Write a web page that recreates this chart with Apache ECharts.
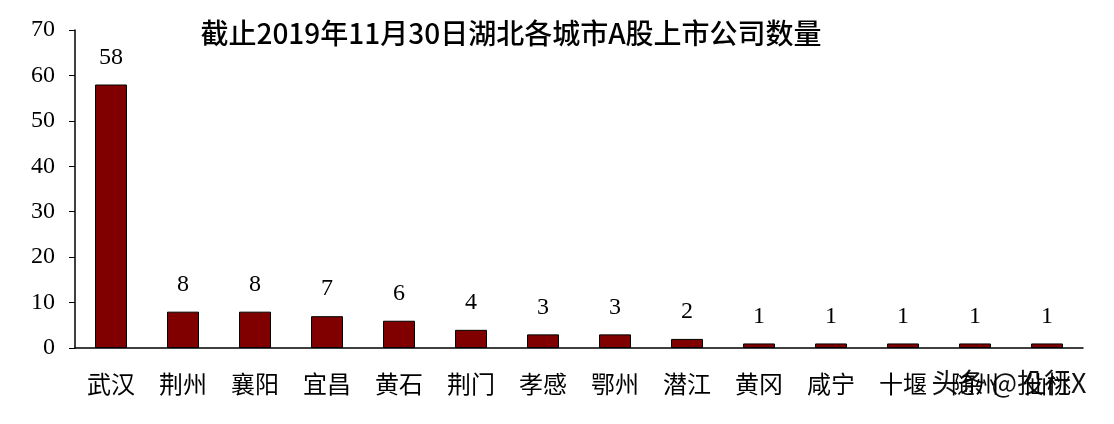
<!DOCTYPE html>
<html><head><meta charset="utf-8">
<script src="https://cdn.jsdelivr.net/npm/echarts@6/dist/echarts.min.js"></script>
<style>html,body{margin:0;padding:0;background:#fff}#c{width:1114px;height:424px}</style>
</head><body><div id="c"></div>
<script>
const title = '截止2019年11月30日湖北各城市A股上市公司数量';
const categories = ['武汉','荆州','襄阳','宜昌','黄石','荆门','孝感','鄂州','潜江','黄冈','咸宁','十堰','随州','仙桃'];
const values = [58,8,8,7,6,4,3,3,2,1,1,1,1,1];
const watermark = '头条 @投行X';
const serif = '"Liberation Serif","Times New Roman","Noto Sans CJK SC",serif';
const chart = echarts.init(document.getElementById('c'));
chart.setOption({
  animation:false,
  backgroundColor:'#fff',
  title:{text:title,left:506,top:14,textAlign:'center',
    textStyle:{fontFamily:'"Noto Sans CJK SC",sans-serif',fontSize:28,fontWeight:500,color:'#000'}},
  grid:{left:75,right:31,top:30,bottom:76},
  xAxis:{type:'category',data:categories,
    axisLine:{lineStyle:{color:'#000',width:1.5}},
    axisTick:{inside:true,length:8,lineStyle:{color:'#000'}},
    axisLabel:{fontFamily:'"Noto Sans CJK SC",serif',fontSize:24,color:'#000',margin:24}},
  yAxis:{type:'value',min:0,max:70,interval:10,
    splitLine:{show:false},
    axisLine:{show:true,lineStyle:{color:'#000',width:1.5}},
    axisTick:{show:true,length:6,lineStyle:{color:'#000'}},
    axisLabel:{fontFamily:serif,fontSize:24,color:'#000',margin:20}},
  series:[{type:'bar',data:values,barWidth:32,
    itemStyle:{color:'#800000',borderColor:'#000',borderWidth:1},
    label:{show:true,position:'top',distance:15,fontFamily:serif,fontSize:24,color:'#000'}}],
  graphic:[{type:'text',left:930,top:368,
    style:{text:watermark,fontFamily:'"Noto Sans CJK SC",sans-serif',fontSize:27,fill:'#111',stroke:'#fff',lineWidth:3}}]
});
</script></body></html>
